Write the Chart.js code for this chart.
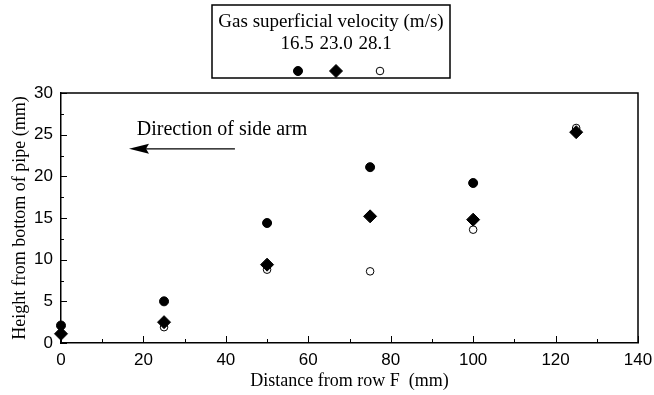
<!DOCTYPE html>
<html>
<head>
<meta charset="utf-8">
<script src="https://cdn.jsdelivr.net/npm/chart.js@4.4.0/dist/chart.umd.min.js"></script>
<style>
  html,body{margin:0;padding:0;background:#fff;}
  #wrap{width:654px;height:395px;position:relative;}
</style>
</head>
<body>
<div id="wrap"><canvas id="chart" width="654" height="395"></canvas></div>
<script>
// distance from row F (mm) and measured heights (mm) per gas velocity
const velocities = ["16.5", "23.0", "28.1"];
const dist165 = [0, 25, 50, 75, 100];
const height165 = [2.1, 5.0, 14.4, 21.1, 19.2];
const dist230 = [0, 25, 50, 75, 100, 125];
const height230 = [1.1, 2.5, 9.4, 15.2, 14.8, 25.3];
const dist281 = [25, 50, 75, 100, 125];
const height281 = [1.9, 8.8, 8.6, 13.6, 25.8];
const xTicks = [0, 20, 40, 60, 80, 100, 120, 140];
const yTicks = [0, 5, 10, 15, 20, 25, 30];

const serif = "'Liberation Serif', 'Times New Roman', serif";
const sans = "'Liberation Sans', Arial, sans-serif";

function pts(xs, ys){ return xs.map((x,i)=>({x:x, y:ys[i]})); }

const markerStyles = [
  {pointStyle:"circle", radius:4.5, bg:"#000", border:"#000", bw:1},
  {pointStyle:"rectRot", radius:6.5, bg:"#000", border:"#000", bw:1},
  {pointStyle:"circle", radius:3.8, bg:"#fff", border:"#000", bw:1}
];

const series = [pts(dist165,height165), pts(dist230,height230), pts(dist281,height281)];

const datasets = series.map((d,i)=>({
  label: velocities[i],
  data: d,
  pointStyle: markerStyles[i].pointStyle,
  pointRadius: markerStyles[i].radius,
  pointHoverRadius: markerStyles[i].radius,
  pointBackgroundColor: markerStyles[i].bg,
  pointBorderColor: markerStyles[i].border,
  pointBorderWidth: markerStyles[i].bw,
  showLine: false,
  clip: false
}));

// frame, inside ticks, arrow note and boxed legend
const decor = {
  id: "decor",
  afterDraw(chart){
    const ctx = chart.ctx;
    const a = chart.chartArea;
    const xs = chart.scales.x, ys = chart.scales.y;
    ctx.save();
    ctx.strokeStyle = "#000";
    ctx.lineWidth = 1.5;
    ctx.beginPath();
    ctx.moveTo(a.left, a.top); ctx.lineTo(a.right, a.top); ctx.lineTo(a.right, a.bottom);
    ctx.stroke();

    ctx.lineWidth = 1;
    ctx.beginPath();
    for(let v = 0; v <= 140; v += 10){
      const px = Math.round(xs.getPixelForValue(v)) + 0.5;
      const len = v % 20 === 0 ? 7 : 4;
      ctx.moveTo(px, a.bottom); ctx.lineTo(px, a.bottom - len);
    }
    for(let v = 0; v <= 30; v += 2.5){
      const py = Math.round(ys.getPixelForValue(v)) + 0.5;
      const len = v % 5 === 0 ? 6 : 3;
      ctx.moveTo(a.left, py); ctx.lineTo(a.left + len, py);
    }
    ctx.stroke();

    // direction note
    ctx.fillStyle = "#000";
    ctx.font = "20px " + serif;
    ctx.textBaseline = "alphabetic";
    ctx.textAlign = "left";
    ctx.fillText("Direction of side arm", xs.getPixelForValue(18.4), ys.getPixelForValue(25.0));
    const ay = ys.getPixelForValue(23.3);
    const tip = xs.getPixelForValue(16.5), tail = xs.getPixelForValue(42.2);
    ctx.lineWidth = 1.3;
    ctx.beginPath(); ctx.moveTo(tip + 15, ay); ctx.lineTo(tail, ay); ctx.stroke();
    ctx.beginPath();
    ctx.moveTo(tip, ay); ctx.lineTo(tip + 20, ay - 5); ctx.lineTo(tip + 17, ay); ctx.lineTo(tip + 20, ay + 5);
    ctx.closePath(); ctx.fill();

    // legend box
    const bx = 212, by = 5, bw = 238, bh = 73;
    ctx.lineWidth = 1.5;
    ctx.strokeRect(bx, by, bw, bh);
    ctx.font = "19px " + serif;
    ctx.textAlign = "center";
    ctx.textBaseline = "middle";
    ctx.fillText("Gas superficial velocity (m/s)", bx + bw/2, 22);
    const labelX = [297, 336, 375];
    const markX = [298, 336, 380];
    chart.data.datasets.forEach((ds,i)=>{
      ctx.fillStyle = "#000";
      ctx.fillText(ds.label, labelX[i], 44);
      ctx.fillStyle = ds.pointBackgroundColor;
      ctx.strokeStyle = ds.pointBorderColor;
      ctx.lineWidth = ds.pointBorderWidth;
      Chart.helpers.drawPoint(ctx, {pointStyle: ds.pointStyle, radius: ds.pointRadius, borderWidth: ds.pointBorderWidth, rotation: 0}, markX[i], 71);
    });
    ctx.restore();
  }
};

new Chart(document.getElementById("chart"), {
  type: "scatter",
  data: { datasets: datasets },
  options: {
    responsive: false,
    animation: false,
    layout: { padding: { top: 93, right: 16, bottom: 0, left: 0 } },
    plugins: { legend: { display: false }, tooltip: { enabled: false } },
    scales: {
      x: {
        type: "linear", min: 0, max: 140,
        afterFit: s => { s.height = 52; s.paddingLeft = 0; s.paddingRight = 0; },
        afterBuildTicks: s => { s.ticks = xTicks.map(v=>({value:v})); },
        grid: { drawOnChartArea: false, drawTicks: false },
        border: { display: true, color: "#000", width: 1.5 },
        ticks: { color: "#000", padding: 7, font: { family: sans, size: 17 } },
        title: { display: true, text: "Distance from row F  (mm)", color: "#000",
                 font: { family: serif, size: 18 }, padding: { top: 0, bottom: 3 } }
      },
      y: {
        type: "linear", min: 0, max: 30,
        afterFit: s => { s.width = 61; s.paddingTop = 0; s.paddingBottom = 0; },
        afterBuildTicks: s => { s.ticks = yTicks.map(v=>({value:v})); },
        grid: { drawOnChartArea: false, drawTicks: false },
        border: { display: true, color: "#000", width: 1.5 },
        ticks: { color: "#000", padding: 8, font: { family: sans, size: 17 } },
        title: { display: true, text: "Height from bottom of pipe (mm)", color: "#000",
                 font: { family: serif, size: 18 }, padding: { top: 9, bottom: 0 } }
      }
    }
  },
  plugins: [decor]
});
</script>
</body>
</html>
